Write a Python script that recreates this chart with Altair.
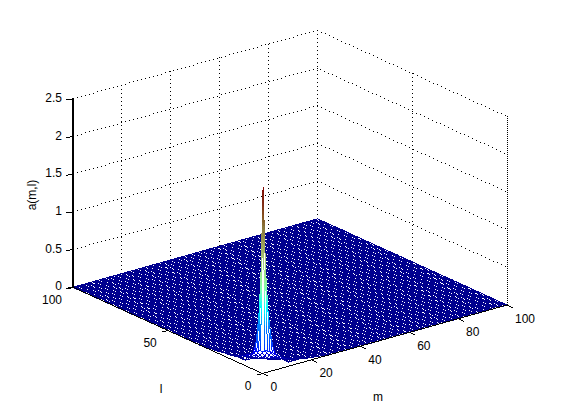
import math
import altair as alt

# ---- values ----
m_ticks = [0, 20, 40, 60, 80, 100]
l_ticks = [0, 50, 100]
z_ticks = [0, 0.5, 1, 1.5, 2, 2.5]
m_labels = ["0", "20", "40", "60", "80", "100"]
l_labels = ["0", "50", "100"]
z_labels = ["0", "0.5", "1", "1.5", "2", "2.5"]

# a(m,l) near the origin: rows m = 0..12, columns l = 0..12
near_heights = [
    [.29, .29, .28, .26, .24, .21, .19, .17, .16, .14, .12, .11, .10],
    [.29, 2.44, 1.35, .80, .50, .30, .20, .17, .15, .13, .11, .10, .09],
    [.28, 1.35, .70, .42, .29, .20, .16, .14, .12, .10, .09, .08, .07],
    [.27, .80, .42, .29, .20, .16, .13, .11, .09, .08, .07, .06, .05],
    [.24, .50, .29, .20, .15, .12, .10, .08, .07, .06, .05, .04, .04],
    [.22, .30, .20, .16, .12, .10, .08, .07, .06, .05, .04, .03, .03],
    [.18, .19, .16, .13, .10, .08, .07, .06, .05, .04, .03, .03, .02],
    [.16, .16, .13, .11, .09, .07, .06, .05, .04, .03, .03, .02, .02],
    [.14, .14, .11, .09, .08, .06, .05, .04, .03, .03, .02, .02, .01],
    [.12, .12, .10, .08, .07, .05, .04, .03, .03, .02, .02, .01, .01],
    [.11, .10, .08, .07, .06, .04, .03, .03, .02, .02, .01, .01, .01],
    [.10, .09, .07, .06, .05, .03, .03, .02, .02, .01, .01, .01, .00],
    [.09, .08, .06, .05, .04, .03, .02, .02, .01, .01, .01, .00, .00],
]
# a(0,l), a(1,l), a(2,l) for l = 13, 14, ...
tail_l0 = [.09, .08, .07, .06, .06, .05, .05, .05, .04, .04, .04, .03, .03, .02, .02, .01]
tail_l1 = [.07, .06, .05, .04, .04, .03, .03, .02, .02, .02, .01, .01]
tail_l2 = [.05, .04, .03, .03, .02, .02, .01, .01]
# a(m,0), a(m,1), a(m,2) for m = 13, 14, ...
tail_m0 = [.08, .07, .06, .06, .05, .05, .04, .04, .03, .03, .02, .02, .01, .01]
tail_m1 = [.06, .05, .04, .04, .03, .03, .02, .02, .01, .01]
tail_m2 = [.04, .03, .03, .02, .02, .01, .01]

color_heights = [0, 0.05, 0.25, 0.6, 0.85, 1.1, 1.5, 1.9, 2.2, 2.44]
color_values = ["#00008F", "#00008F", "#0000FF", "#0080FF", "#00FFFF", "#80FFB0",
                "#A8C878", "#8A7A40", "#803018", "#800000"]

N = 100
ORIGIN = (262.5 - 8, 373.5 - 8)
M_STEP = (2.445, -0.685)
L_STEP = (-1.895, -0.862)
Z_STEP = -75.4
MESH_W = 1.08


def proj(m, l, z=0.0):
    return (ORIGIN[0] + M_STEP[0] * m + L_STEP[0] * l,
            ORIGIN[1] + M_STEP[1] * m + L_STEP[1] * l + Z_STEP * z)


heights = {}
for i, row in enumerate(near_heights):
    for j, v in enumerate(row):
        heights[(i, j)] = v
for i, tail in enumerate([tail_l0, tail_l1, tail_l2]):
    for j, v in enumerate(tail):
        heights[(i, 13 + j)] = v
for j, tail in enumerate([tail_m0, tail_m1, tail_m2]):
    for i, v in enumerate(tail):
        heights[(13 + i, j)] = v


def h(m, l):
    return heights.get((m, l), 0.0)


def raised(m, l):
    return any(h(m + a, l + b) > 0 for a in (0, 1) for b in (0, 1))


def pixels(p, q, w=1.0):
    """Pixel cells a line of w pixels from p to q runs through."""
    (x0, y0), (x1, y1) = p, q
    out = []
    if abs(x1 - x0) >= abs(y1 - y0):
        if x0 > x1:
            x0, y0, x1, y1 = x1, y1, x0, y0
        for c in range(math.floor(x0), math.floor(x1) + 1):
            t = 0 if x1 == x0 else min(1, max(0, (c + .5 - x0) / (x1 - x0)))
            y = y0 + (y1 - y0) * t
            out.append((c, math.floor(y)))
            for r in (math.floor(y) - 1, math.floor(y) + 1):
                if abs(r + .5 - y) <= w / 2:
                    out.append((c, r))
    else:
        if y0 > y1:
            x0, y0, x1, y1 = x1, y1, x0, y0
        for r in range(math.floor(y0), math.floor(y1) + 1):
            t = 0 if y1 == y0 else min(1, max(0, (r + .5 - y0) / (y1 - y0)))
            x = x0 + (x1 - x0) * t
            out.append((math.floor(x), r))
            for c in (math.floor(x) - 1, math.floor(x) + 1):
                if abs(c + .5 - x) <= w / 2:
                    out.append((c, r))
    return out


def runs_feature(cells, val, width=1.0):
    """One crisp stroke per horizontal run of pixel cells."""
    rows = {}
    for c, r in set(cells):
        rows.setdefault(r, []).append(c)
    lines = []
    for r, cs in rows.items():
        cs.sort()
        start = prev = cs[0]
        for c in cs[1:] + [None]:
            if c is None or c != prev + 1:
                lines.append([[start, r + .5], [prev + 1, r + .5]])
                start = c
            prev = c
    return {"type": "Feature",
            "geometry": {"type": "MultiLineString", "coordinates": lines},
            "properties": {"h": val, "w": width, "fill": "transparent"}}


def edge_features(m0, l0, m1, l1):
    a, b = h(m0, l0), h(m1, l1)
    n = max(1, math.ceil(abs(a - b) / 0.05))
    out = []
    for k in range(n):
        t0, t1 = k / n, (k + 1) / n
        z0, z1 = a + (b - a) * t0, a + (b - a) * t1
        p = proj(m0 + (m1 - m0) * t0, l0 + (l1 - l0) * t0, z0)
        q = proj(m0 + (m1 - m0) * t1, l0 + (l1 - l0) * t1, z1)
        out.append(runs_feature(pixels(p, q), (z0 + z1) / 2))
    return out


# flat part of the mesh
flat_cells = []
for i in range(N + 1):
    start = None
    for j in range(N + 1):
        flat = j < N and not ((i < N and raised(i, j)) or (i > 0 and raised(i - 1, j)))
        if flat and start is None:
            start = j
        if not flat and start is not None:
            flat_cells += pixels(proj(i, start), proj(i, j), MESH_W)
            start = None
for j in range(N + 1):
    start = None
    for i in range(N + 1):
        flat = i < N and not ((j < N and raised(i, j)) or (j > 0 and raised(i, j - 1)))
        if flat and start is None:
            start = i
        if not flat and start is not None:
            flat_cells += pixels(proj(start, j), proj(i, j), MESH_W)
            start = None
features = [runs_feature(flat_cells, 0.0)]

# raised cells, back to front
cells = [(i, j) for i in range(N) for j in range(N) if raised(i, j)]
cells.sort(key=lambda c: -(c[0] + c[1]))
for i, j in cells:
    ring = [proj(i, j, h(i, j)), proj(i + 1, j, h(i + 1, j)),
            proj(i + 1, j + 1, h(i + 1, j + 1)), proj(i, j + 1, h(i, j + 1))]
    ring = [list(p) for p in ring]
    ring.append(ring[0])
    features.append({"type": "Feature",
                     "geometry": {"type": "Polygon", "coordinates": [ring]},
                     "properties": {"h": 0.0, "w": 0.0, "fill": "white"}})
    features += edge_features(i, j, i + 1, j)
    features += edge_features(i + 1, j, i + 1, j + 1)
    features += edge_features(i + 1, j + 1, i, j + 1)
    features += edge_features(i, j + 1, i, j)

W, H = 545, 404
DOT = 4

# dotted grid on the two back walls
grid_cells = []


def dotted(p, q):
    px = pixels(p, q)
    for k, cell in enumerate(px):
        if k % DOT == 0:
            grid_cells.append(cell)


for z in z_ticks[1:]:
    dotted(proj(0, N, z), proj(N, N, z))
    dotted(proj(N, N, z), proj(N, 0, z))
for m in m_ticks[1:]:
    dotted(proj(m, N, z_ticks[-1]), proj(m, N, 0))
for l in l_ticks[1:-1] + [0]:
    dotted(proj(N, l, z_ticks[-1]), proj(N, l, 0))

# axis lines and tick marks
axis_cells = []
axis_cells += pixels(proj(0, N, 0), proj(0, N, z_ticks[-1]))
axis_cells += pixels(proj(0, 0), proj(0, N))
axis_cells += pixels(proj(0, 0), proj(N, 0))
for m in m_ticks:
    axis_cells += pixels(proj(m, 0), proj(m, -2.7))
for l in l_ticks:
    axis_cells += pixels(proj(0, l), proj(-2.2, l))
for z in z_ticks:
    axis_cells += pixels(proj(0, N, z), proj(-2.2, N + 0.6, z))

identity = dict(type="identity", scale=1, translate=[0, 0])


def black_pixels(cells_):
    return alt.Chart(alt.Data(values=[runs_feature(cells_, 0.0)])).mark_geoshape(
        stroke="black", strokeWidth=1, fill="transparent").project(**identity)


surface = alt.Chart(alt.Data(values=features)).mark_geoshape().encode(
    fill=alt.Fill("properties.fill:N", scale=None),
    stroke=alt.Stroke("properties.h:Q",
                      scale=alt.Scale(domain=color_heights, range=color_values), legend=None),
    strokeWidth=alt.StrokeWidth("properties.w:Q", scale=None),
).project(**identity)

xs = alt.Scale(domain=[0, W], nice=False, zero=False)
ys = alt.Scale(domain=[H, 0], nice=False, zero=False)


def texts(rows, **mark):
    return alt.Chart(alt.Data(values=rows)).mark_text(
        font="Liberation Sans", fontSize=12, color="black", **mark).encode(
        x=alt.X("x:Q", scale=xs, axis=None),
        y=alt.Y("y:Q", scale=ys, axis=None),
        text="t:N")


m_text = [{"x": proj(m, 0)[0] + 8, "y": proj(m, 0)[1] + 13.5, "t": t} for m, t in zip(m_ticks, m_labels)]
l_text = [{"x": proj(0, l)[0] - 11, "y": proj(0, l)[1] + 12.5, "t": t} for l, t in zip(l_ticks, l_labels)]
z_text = [{"x": proj(0, N, z)[0] - 11, "y": proj(0, N, z)[1] - 1, "t": t} for z, t in zip(z_ticks, z_labels)]
m_title = [{"x": 378 - 8, "y": 397 - 8, "t": "m"}]
l_title = [{"x": 161 - 8, "y": 389 - 8, "t": "l"}]
z_title = [{"x": 32 - 8, "y": 195 - 8, "t": "a(m,l)"}]

chart = alt.layer(
    black_pixels(grid_cells),
    surface,
    black_pixels(axis_cells),
    texts(m_text, align="left", baseline="middle"),
    texts(l_text, align="right", baseline="middle"),
    texts(z_text, align="right", baseline="middle"),
    texts(m_title, align="center", baseline="middle"),
    texts(l_title, align="center", baseline="middle"),
    texts(z_title, align="center", baseline="middle", angle=270),
).properties(width=W, height=H, padding=0, autosize=alt.AutoSizeParams(type="none"),
             background="white").configure_view(stroke=None)

chart.save("out.html", embed_options={"renderer": "svg", "actions": False})
